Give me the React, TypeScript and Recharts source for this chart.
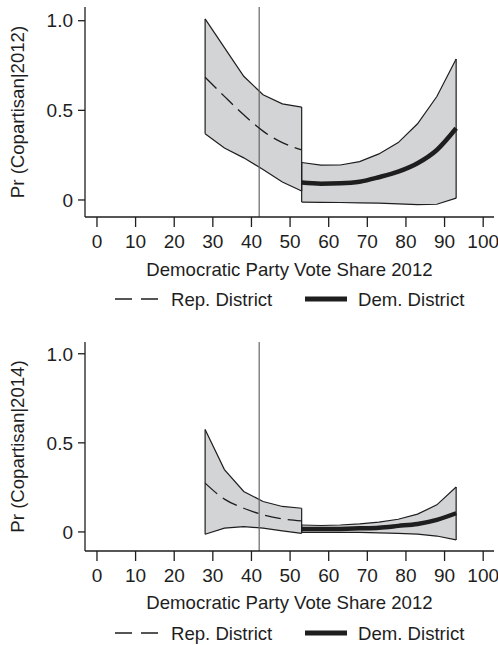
import React from "react";
import {
  ComposedChart,
  Area,
  Line,
  XAxis,
  YAxis,
  ReferenceLine,
} from "recharts";

const xTicks = [0, 10, 20, 30, 40, 50, 60, 70, 80, 90, 100];
const yTicks = [0, 0.5, 1];

const repShare = [28, 33, 38, 43, 48, 53];
const demShare = [53, 58, 63, 68, 73, 78, 83, 88, 93];

// Pr(Copartisan|2012)
const rep12Mean = [0.685, 0.578, 0.475, 0.384, 0.32, 0.279];
const rep12Lo = [0.37, 0.29, 0.235, 0.17, 0.1, 0.05];
const rep12Hi = [1.01, 0.85, 0.69, 0.587, 0.536, 0.518];
const dem12Mean = [0.097, 0.091, 0.093, 0.102, 0.127, 0.158, 0.205, 0.279, 0.4];
const dem12Lo = [-0.012, -0.013, -0.014, -0.016, -0.018, -0.022, -0.026, -0.024, 0.01];
const dem12Hi = [0.209, 0.194, 0.195, 0.214, 0.257, 0.32, 0.425, 0.577, 0.786];

// Pr(Copartisan|2014)
const rep14Mean = [0.274, 0.184, 0.133, 0.096, 0.073, 0.062];
const rep14Lo = [-0.013, 0.021, 0.03, 0.021, 0.006, -0.008];
const rep14Hi = [0.575, 0.35, 0.227, 0.171, 0.143, 0.133];
const dem14Mean = [0.017, 0.016, 0.017, 0.02, 0.024, 0.034, 0.045, 0.068, 0.105];
const dem14Lo = [-0.002, -0.002, -0.002, -0.003, -0.005, -0.008, -0.012, -0.023, -0.045];
const dem14Hi = [0.039, 0.036, 0.039, 0.045, 0.055, 0.071, 0.1, 0.152, 0.252];

const cutoff = 42;
const xTitle = "Democratic Party Vote Share 2012";

const ink = "#1e1e1e";
const bandFill = "#d3d4d6";
const font = "'Liberation Sans', Arial, sans-serif";
const tickFont = 19;
const titleFont = 18.6;

const toRows = (xs: number[], lo: number[], hi: number[], mean: number[]) =>
  xs.map((x, i) => ({ x, band: [lo[i], hi[i]], mean: mean[i] }));

interface panelProps {
  top: number;
  height: number;
  marginTop: number;
  xAxisHeight: number;
  yDomain: [number, number];
  yTitle: string;
  titleOffset: number;
  legendY: number;
  repLo: number[];
  repHi: number[];
  repMean: number[];
  demLo: number[];
  demHi: number[];
  demMean: number[];
}

const Panel = ({
  top,
  height,
  marginTop,
  xAxisHeight,
  yDomain,
  yTitle,
  titleOffset,
  legendY,
  repLo,
  repHi,
  repMean,
  demLo,
  demHi,
  demMean,
}: panelProps) => {
  const repRows = toRows(repShare, repLo, repHi, repMean);
  const demRows = toRows(demShare, demLo, demHi, demMean);
  const xDomain: [number, number] = [-3.1, 102.8];
  // closing edges of the two bands
  const edges = [
    { x: repShare[0], lo: repLo[0], hi: repHi[0] },
    { x: repShare[repShare.length - 1], lo: repLo[repLo.length - 1], hi: repHi[repHi.length - 1] },
    { x: demShare[0], lo: demLo[0], hi: demHi[0] },
    { x: demShare[demShare.length - 1], lo: demLo[demLo.length - 1], hi: demHi[demHi.length - 1] },
  ];

  return (
    <div style={{ position: "absolute", left: 0, top, width: 498, height }}>
      <ComposedChart
        width={498}
        height={height}
        margin={{ top: marginTop, right: 4, bottom: 0, left: 0 }}
      >
        <XAxis
          type="number"
          dataKey="x"
          domain={xDomain}
          allowDataOverflow
          ticks={xTicks}
          interval={0}
          height={xAxisHeight}
          tickSize={10}
          tickMargin={8}
          stroke={ink}
          strokeWidth={1.3}
          tick={{ fill: ink, fontSize: tickFont }}
          label={{
            value: xTitle,
            position: "insideTop",
            offset: titleOffset,
            fill: ink,
            fontSize: titleFont,
          }}
        />
        <XAxis
          xAxisId="top"
          orientation="top"
          type="number"
          domain={xDomain}
          allowDataOverflow
          height={0}
          tick={false}
          tickLine={false}
          stroke={ink}
          strokeWidth={1.3}
        />
        <YAxis
          type="number"
          domain={yDomain}
          allowDataOverflow
          ticks={yTicks}
          interval={0}
          width={85}
          tickSize={7}
          tickMargin={5}
          stroke={ink}
          strokeWidth={1.3}
          tick={{ fill: ink, fontSize: tickFont }}
          tickFormatter={(v: number) => (v === 0 ? "0" : v.toFixed(1))}
          label={{
            value: yTitle,
            angle: -90,
            position: "insideLeft",
            offset: 17,
            fill: ink,
            fontSize: titleFont,
            style: { textAnchor: "middle" },
          }}
        />
        <YAxis
          yAxisId="right"
          orientation="right"
          type="number"
          domain={yDomain}
          allowDataOverflow
          width={0}
          tick={false}
          tickLine={false}
          stroke={ink}
          strokeWidth={1.3}
        />

        <Area
          data={repRows}
          dataKey="band"
          type="linear"
          stroke={ink}
          strokeWidth={1.2}
          fill={bandFill}
          fillOpacity={1}
          dot={false}
          activeDot={false}
          isAnimationActive={false}
        />
        <Area
          data={demRows}
          dataKey="band"
          type="linear"
          stroke={ink}
          strokeWidth={1.2}
          fill={bandFill}
          fillOpacity={1}
          dot={false}
          activeDot={false}
          isAnimationActive={false}
        />
        {edges.map((e, i) => (
          <ReferenceLine
            key={i}
            segment={[
              { x: e.x, y: e.lo },
              { x: e.x, y: e.hi },
            ]}
            stroke={ink}
            strokeWidth={1.2}
          />
        ))}
        <ReferenceLine x={cutoff} stroke="#666" strokeWidth={1.2} />
        <Line
          data={repRows}
          dataKey="mean"
          type="monotone"
          stroke={ink}
          strokeWidth={1.3}
          strokeDasharray="16 7"
          dot={false}
          activeDot={false}
          isAnimationActive={false}
        />
        <Line
          data={demRows}
          dataKey="mean"
          type="monotone"
          stroke={ink}
          strokeWidth={4.5}
          dot={false}
          activeDot={false}
          isAnimationActive={false}
        />
      </ComposedChart>
      <svg
        width={498}
        height={30}
        style={{ position: "absolute", left: 0, top: legendY - 15 }}
      >
        <line x1={115} x2={158} y1={15} y2={15} stroke={ink} strokeWidth={1.3} strokeDasharray="17 9" />
        <text x={171} y={21.5} fontSize={titleFont} fill={ink}>
          Rep. District
        </text>
        <line x1={305} x2={347} y1={15} y2={15} stroke={ink} strokeWidth={5} />
        <text x={358} y={21.5} fontSize={titleFont} fill={ink}>
          Dem. District
        </text>
      </svg>
    </div>
  );
};

export default function App() {
  return (
    <div
      style={{
        position: "absolute",
        left: 0,
        top: 0,
        width: 498,
        height: 645,
        background: "#fff",
        fontFamily: font,
      }}
    >
      <Panel
        top={0}
        height={320}
        marginTop={7}
        xAxisHeight={103}
        yDomain={[-0.095, 1.0765]}
        yTitle="Pr (Copartisan|2012)"
        titleOffset={46}
        legendY={299}
        repLo={rep12Lo}
        repHi={rep12Hi}
        repMean={rep12Mean}
        demLo={dem12Lo}
        demHi={dem12Hi}
        demMean={dem12Mean}
      />
      <Panel
        top={320}
        height={325}
        marginTop={22}
        xAxisHeight={94}
        yDomain={[-0.107, 1.066]}
        yTitle="Pr (Copartisan|2014)"
        titleOffset={45}
        legendY={313}
        repLo={rep14Lo}
        repHi={rep14Hi}
        repMean={rep14Mean}
        demLo={dem14Lo}
        demHi={dem14Hi}
        demMean={dem14Mean}
      />
    </div>
  );
}
